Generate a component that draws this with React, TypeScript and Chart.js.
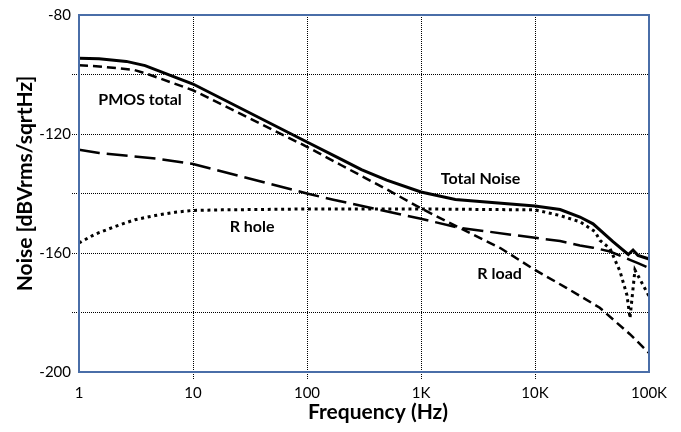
import React, { useEffect, useRef } from "react";
import { Chart, registerables } from "chart.js";

Chart.register(...registerables);

// ---- data ----
const totalFreq = [1, 1.5, 2.6, 3.8, 10, 100, 200, 300, 500, 1000, 2000, 10000, 16600, 24800, 32300, 48300, 65800, 72400, 80000, 100000];
const totalNoise = [-94.5, -94.7, -95.6, -97.0, -103.2, -122.7, -128.5, -132.0, -135.5, -139.5, -142.0, -144.2, -145.4, -147.9, -150.2, -156.2, -160.5, -159.0, -160.8, -162.0];

const pmosFreq = [1, 1.5, 3, 3.9, 10, 100, 200, 500, 1000, 2300, 5000, 10000, 19000, 37000, 68000, 100000];
const pmosNoise = [-96.9, -97.3, -98.4, -99.7, -105.3, -124.3, -130.5, -138.6, -145.0, -152.0, -158.4, -165.7, -171.8, -178.4, -187.3, -193.6];

const longFreq = [1, 1.5, 5.1, 10, 100, 170, 1000, 2150, 10000, 16600, 24800, 32300, 45500, 68000, 80000, 100000];
const longNoise = [-125.3, -126.4, -128.4, -130.1, -140.0, -142.1, -148.5, -151.5, -154.9, -156.0, -157.5, -158.2, -159.5, -162.3, -163.4, -165.0];

const holeFreq = [1, 1.38, 2.07, 3.1, 4.65, 6.97, 9.8, 17.9, 100, 1000, 10000, 16600, 24800, 33600, 37200, 45500, 55700, 64100, 68100, 75300, 100000];
const holeNoise = [-156.6, -153.7, -151.1, -148.8, -147.4, -146.3, -145.7, -145.5, -145.2, -145.2, -145.5, -147.4, -149.5, -152.8, -155.8, -158.5, -166.2, -174.2, -181.9, -165.7, -174.5];

const xTickValues = [1, 10, 100, 1000, 10000, 100000];
const xTickLabels = ["1", "10", "100", "1K", "10K", "100K"];

const noteTexts = ["PMOS total", "Total Noise", "R hole", "R load"];
const noteFreqs = [3.43, 3330, 33, 4890];
const noteLevels = [-108.4, -135.1, -151.1, -167.1];

const xTitle = "Frequency (Hz)";
const yTitle = "Noise [dBVrms/sqrtHz]";

const FONT = "Lato, 'Open Sans', sans-serif";
const BLUE = "#4a6ea8";

function pts(fs: number[], vs: number[]) {
  return fs.map((f, i) => ({ x: f, y: vs[i] }));
}

const overlay = {
  id: "overlay",
  afterDatasetsDraw(chart: any) {
    const { ctx, chartArea: a, scales } = chart;
    ctx.save();
    ctx.fillStyle = "#000";
    ctx.textAlign = "center";
    ctx.textBaseline = "middle";
    ctx.font = `bold 16px ${FONT}`;
    noteTexts.forEach((t, i) => {
      ctx.fillText(t, scales.x.getPixelForValue(noteFreqs[i]), scales.y.getPixelForValue(noteLevels[i]));
    });
    ctx.strokeStyle = BLUE;
    ctx.lineWidth = 2;
    ctx.strokeRect(a.left, a.top, a.right - a.left, a.bottom - a.top);
    ctx.font = `bold 21px ${FONT}`;
    ctx.fillText(xTitle, (a.left + a.right) / 2 + 14, 412);
    ctx.translate(25, (a.top + a.bottom) / 2 - 10);
    ctx.rotate(-Math.PI / 2);
    ctx.fillText(yTitle, 0, 0);
    ctx.restore();
  },
};

export default function App() {
  const ref = useRef<HTMLCanvasElement | null>(null);
  useEffect(() => {
    if (!ref.current) return;
    const base = { pointRadius: 0, borderColor: "#000", fill: false, tension: 0, borderCapStyle: "butt" };
    const chart = new Chart(ref.current, {
      type: "line",
      data: {
        datasets: [
          { ...base, label: "R hole", data: pts(holeFreq, holeNoise), borderWidth: 3, borderDash: [3, 3.7] },
          { ...base, label: "Long dash", data: pts(longFreq, longNoise), borderWidth: 2.5, borderDash: [21, 7] },
          { ...base, label: "PMOS", data: pts(pmosFreq, pmosNoise), borderWidth: 2.5, borderDash: [9, 5] },
          { ...base, label: "Total", data: pts(totalFreq, totalNoise), borderWidth: 3 },
        ] as any,
      },
      options: {
        responsive: false,
        maintainAspectRatio: false,
        animation: false,
        parsing: true as any,
        layout: { padding: { top: 15, right: 32, left: 0, bottom: 0 } },
        plugins: { legend: { display: false }, tooltip: { enabled: false } },
        scales: {
          x: {
            type: "logarithmic",
            min: 1,
            max: 100000,
            afterBuildTicks: (s: any) => {
              s.ticks = xTickValues.map((v) => ({ value: v }));
            },
            afterFit: (s: any) => {
              s.height = 60;
            },
            ticks: {
              autoSkip: false,
              maxRotation: 0,
              padding: 5,
              color: "#000",
              font: { family: FONT, size: 15 },
              callback: (v: any) => {
                const i = xTickValues.findIndex((t) => Math.abs(t - Number(v)) < 1e-6 * t);
                return i >= 0 ? xTickLabels[i] : "";
              },
            },
            grid: {
              color: (c: any) => (c.tick && (c.tick.value === 1 || c.tick.value === 100000) ? "rgba(0,0,0,0)" : "#000"),
              lineWidth: 1,
              drawTicks: true,
              tickLength: 7,
              tickBorderDash: [1, 1],
            },
            border: { display: false, dash: [1, 1] },
          },
          y: {
            type: "linear",
            min: -200,
            max: -80,
            afterFit: (s: any) => {
              s.width = 79;
            },
            ticks: {
              stepSize: 20,
              autoSkip: false,
              padding: 1,
              color: "#000",
              font: { family: FONT, size: 15 },
              callback: (v: any) => (Number(v) % 40 === 0 ? String(v) : ""),
            },
            grid: {
              color: (c: any) => (c.tick && (c.tick.value === -80 || c.tick.value === -200) ? "rgba(0,0,0,0)" : "#000"),
              lineWidth: 1,
              drawTicks: true,
              tickLength: 7,
              tickBorderDash: [1, 1],
            },
            border: { display: false, dash: [1, 1] },
          },
        },
      } as any,
      plugins: [overlay],
    });
    return () => chart.destroy();
  }, []);
  return (
    <div style={{ position: "absolute", left: 0, top: 0, width: 681, height: 432, background: "#fff" }}>
      <canvas ref={ref} width={681} height={432} style={{ display: "block" }} />
    </div>
  );
}
